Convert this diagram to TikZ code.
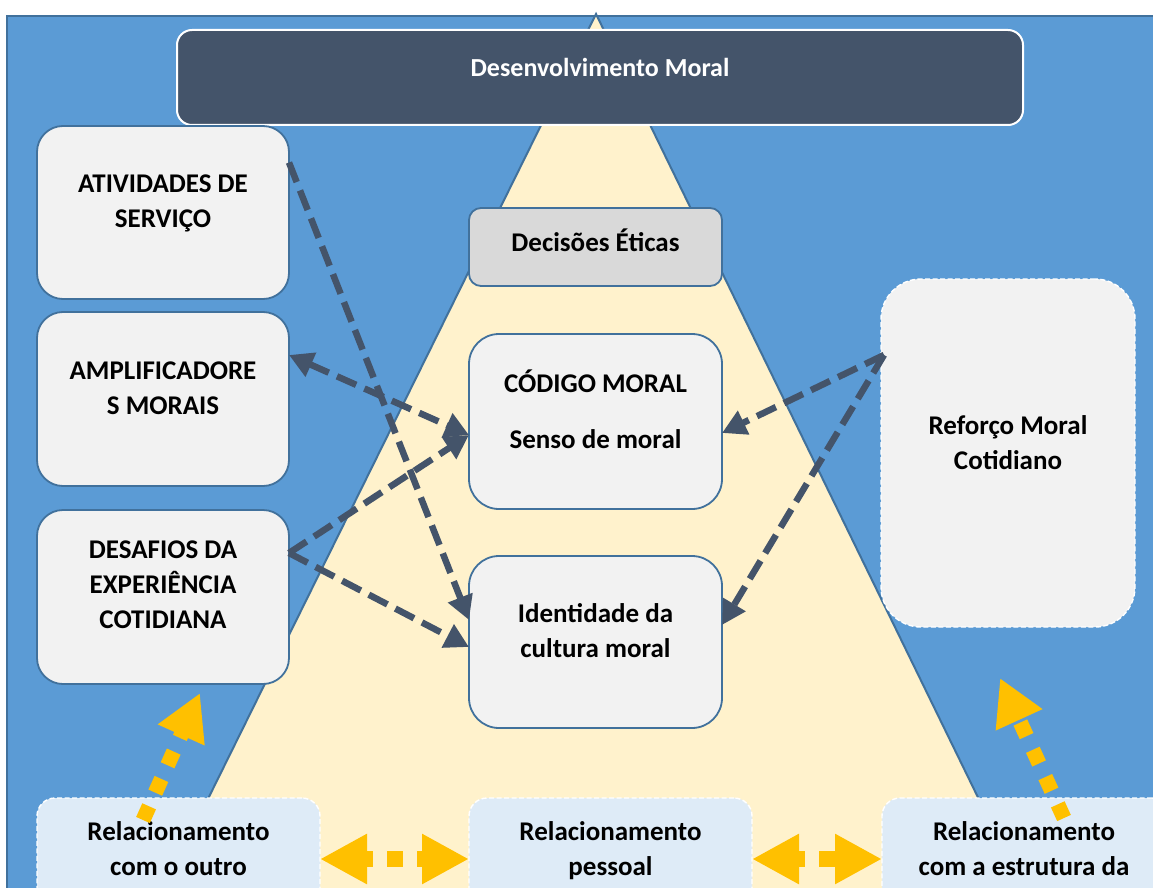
\documentclass[tikz,border=0pt]{standalone}
\usepackage{fontspec}
\setmainfont{Carlito}
\usetikzlibrary{arrows.meta,calc}
\definecolor{bgblue}{HTML}{5B9BD5}
\definecolor{edgeblue}{HTML}{41719C}
\definecolor{cream}{HTML}{FFF2CC}
\definecolor{slate}{HTML}{44546A}
\definecolor{boxgray}{HTML}{F2F2F2}
\definecolor{midgray}{HTML}{D9D9D9}
\definecolor{paleblue}{HTML}{DEEBF7}
\definecolor{amber}{HTML}{FFC000}
\begin{document}
\begin{tikzpicture}[x=1pt,y=-1pt,
  every node/.style={inner sep=0pt,outer sep=0pt},
  card/.style={draw=edgeblue,line width=1.8pt,fill=boxgray,rounded corners=26pt},
  midcard/.style={card,rounded corners=30pt},
  dashcard/.style={draw=white,line width=1.4pt,dash pattern=on 5pt off 2.5pt,fill=boxgray,rounded corners=40pt},
  basecard/.style={draw=white,line width=1.4pt,dash pattern=on 5pt off 2.5pt,fill=paleblue,rounded corners=18pt},
  txt/.style={font=\fontsize{27}{35}\selectfont\bfseries,align=center,text=black,
    execute at begin node=\strut,execute at end node=\strut},
  darrow/.style={draw=slate,line width=6.5pt,dash pattern=on 21pt off 9pt,-{Triangle[length=24pt,width=25pt]}},
  ydots/.style={draw=amber,line width=15pt,dash pattern=on 15pt off 15pt,-{Triangle[length=46pt,width=48pt]}},
  ylink/.style={draw=amber,line width=16pt,dash pattern=on 16pt off 14pt,dash phase=7pt,
    {Triangle[length=47pt,width=47pt]}-{Triangle[length=47pt,width=47pt]}}]

\clip (0,0) rectangle (1153,888);
\fill[white] (0,0) rectangle (1153,888);

% backdrop and pyramid
\draw[fill=bgblue,draw=edgeblue,line width=2pt] (7,16) rectangle (1170,910);
\draw[fill=cream,draw=edgeblue,line width=2pt] (596,14) -- (158,900) -- (1028,900) -- cycle;

% title bar
\node[draw=white,line width=2pt,fill=slate,rounded corners=15pt,minimum width=846pt,minimum height=95pt] (title) at (600,77.5) {};
\node[font=\fontsize{26}{30}\selectfont\bfseries,text=white] (titleT) at ([yshift=10pt]title.center) {Desenvolvimento Moral};

% left column
\node[card,minimum width=252pt,minimum height=173pt] (atv) at (163,212.5) {};
\node[card,minimum width=252pt,minimum height=174pt] (amp) at (163,399) {};
\node[card,minimum width=252pt,minimum height=174pt] (des) at (163,597) {};
\node[txt] (atvT) at ([yshift=6pt]atv.center) {ATIVIDADES DE\\SERVIÇO};
\node[txt] (ampT) at ([yshift=5.5pt]amp.center) {AMPLIFICADORE\\S MORAIS};
\node[txt] (desT) at ([yshift=7pt]des.center) {DESAFIOS DA\\EXPERIÊNCIA\\COTIDIANA};

% centre column
\node[card,fill=midgray,rounded corners=12pt,minimum width=253pt,minimum height=78pt] (dec) at (595.5,247) {};
\node[midcard,minimum width=253pt,minimum height=175pt] (cod) at (595.5,421.5) {};
\node[midcard,minimum width=253pt,minimum height=172pt] (idn) at (595.5,642) {};
\node[txt] (decT) at ([yshift=2.5pt]dec.center) {Decisões Éticas};
\node[txt] (codT) at ([yshift=7pt]cod.center) {CÓDIGO MORAL\\[21pt]Senso de moral};
\node[txt] (idnT) at ([yshift=6.5pt]idn.center) {Identidade da\\cultura moral};

% right column
\node[dashcard,minimum width=254pt,minimum height=348pt] (ref) at (1008,453) {};
\node[txt] (refT) at ([yshift=5.5pt]ref.center) {Reforço Moral\\Cotidiano};

% base row
\node[basecard,minimum width=283pt,minimum height=122pt] (out) at (178.5,859) {};
\node[basecard,minimum width=283pt,minimum height=122pt] (pes) at (610.5,859) {};
\node[basecard,minimum width=288pt,minimum height=122pt] (est) at (1026,859) {};
\node[txt] (outT) at ([yshift=5.5pt]out.center) {Relacionamento\\com o outro};
\node[txt] (pesT) at ([yshift=5.5pt]pes.center) {Relacionamento\\pessoal};
\node[txt] (estT) at ([xshift=-2pt,yshift=5.5pt]est.center) {Relacionamento\\com a estrutura da};

% dark connectors
\draw[darrow] ([yshift=50pt]atv.east) -- ([yshift=22pt]idn.west);
\draw[darrow,{Triangle[length=24pt,width=25pt]}-{Triangle[length=24pt,width=25pt]}] ([yshift=44pt]amp.east) -- ([yshift=-13.5pt]cod.west);
\draw[darrow] ([yshift=44pt]des.east) -- ([yshift=-13.5pt]cod.west);
\draw[darrow] ([yshift=44pt]des.east) -- ([yshift=-5pt]idn.west);
\draw[darrow] ([xshift=3pt,yshift=98pt]ref.west) -- ([yshift=-11.5pt]cod.east);
\draw[darrow] ([xshift=3pt,yshift=98pt]ref.west) -- ([yshift=17pt]idn.east);

% amber connectors
\coordinate (outS) at ([xshift=-35.5pt,yshift=-22pt]out.north);
\coordinate (desP) at ([xshift=37pt,yshift=-9pt]des.south);
\coordinate (estS) at ([xshift=38pt,yshift=-20pt]est.north);
\coordinate (refP) at ([xshift=-8pt,yshift=-51pt]ref.south);
\draw[ydots] (outS) -- (desP);
\draw[ydots] (estS) -- (refP);
\draw[ylink] (out.east) -- (pes.west);
\draw[ylink] (pes.east) -- (est.west);
\end{tikzpicture}
\end{document}
